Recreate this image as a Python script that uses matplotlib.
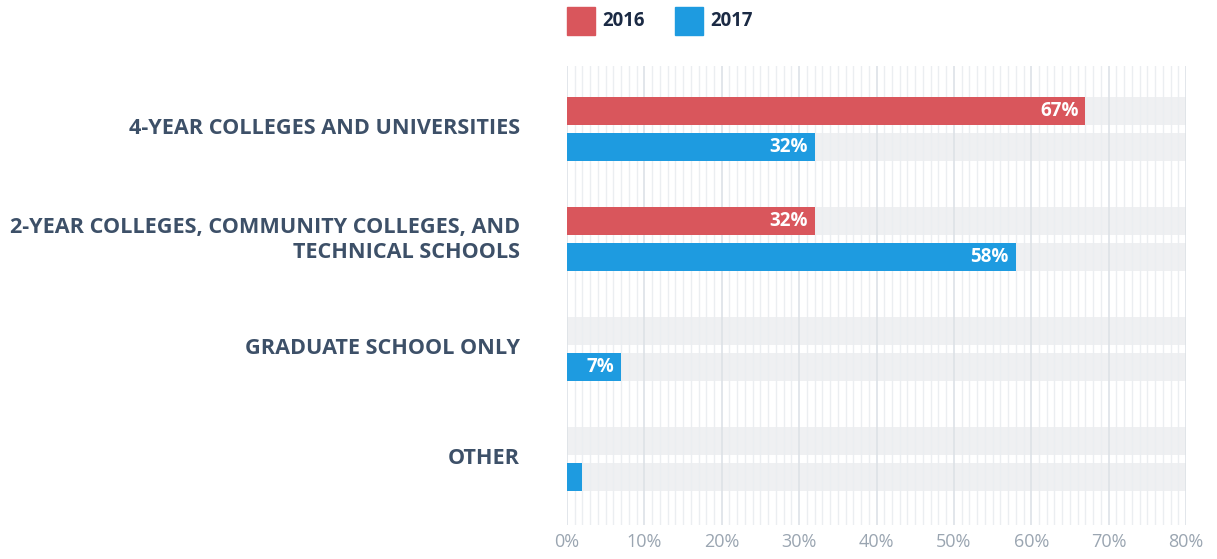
import matplotlib.pyplot as plt
import matplotlib.transforms as mtransforms
from matplotlib.ticker import MultipleLocator, FuncFormatter
from matplotlib.patches import Rectangle

plt.rcParams['font.family'] = ['Open Sans', 'DejaVu Sans']

categories = ['4-YEAR COLLEGES AND UNIVERSITIES',
              '2-YEAR COLLEGES, COMMUNITY COLLEGES, AND\nTECHNICAL SCHOOLS',
              'GRADUATE SCHOOL ONLY',
              'OTHER']
vals_2016 = [67, 32, 0, 0]
vals_2017 = [32, 58, 7, 2]
series_names = ['2016', '2017']
colors = ['#d9565c', '#1e9be0']
show_label_min = 5

fig = plt.figure(figsize=(12.17, 5.59), dpi=100)
ax = fig.add_axes([567 / 1217, 1 - 525 / 559, 619 / 1217, 459 / 559])

xmax = 80
h = 28 / 110
off = 18 / 110
y = list(range(len(categories)))

# background tracks
for yi in y:
    for o in (-off, off):
        ax.barh(yi + o, xmax, height=h, color='#eff0f2', zorder=1)

for vals, col, o in ((vals_2016, colors[0], -off), (vals_2017, colors[1], off)):
    ax.barh([yi + o for yi in y], vals, height=h, color=col, zorder=3)
    for yi, v in zip(y, vals):
        if v >= show_label_min:
            ax.text(v - 0.9, yi + o, f'{v}%', ha='right', va='center',
                    color='white', fontsize=13.5, fontweight='bold', zorder=4)

ax.set_xlim(0, xmax)
ax.set_ylim(3 + 66 / 110, -63 / 110)
ax.xaxis.set_major_locator(MultipleLocator(10))
ax.xaxis.set_minor_locator(MultipleLocator(1))
ax.xaxis.set_major_formatter(FuncFormatter(lambda v, p: f'{v:.0f}%'))
ax.grid(axis='x', which='major', color='#dde2e7', lw=1.2, zorder=0)
ax.grid(axis='x', which='minor', color='#ebeef1', lw=1.0, zorder=0)
ax.tick_params(axis='x', which='both', length=0, labelsize=13, colors='#9aa5b1', pad=6)
ax.tick_params(axis='y', length=0, pad=34)
ax.set_yticks(y)
ax.set_yticklabels(categories, fontsize=15.6, fontweight='bold', color='#3d5068',
                   linespacing=1.2)
shift = mtransforms.ScaledTranslation(0, 3 / 100, fig.dpi_scale_trans)
for lab in ax.get_yticklabels():
    lab.set_transform(lab.get_transform() + shift)
for s in ax.spines.values():
    s.set_visible(False)

# legend
lx = [567, 675]
for x0, name, col in zip(lx, series_names, colors):
    fig.patches.append(Rectangle((x0 / 1217, 1 - 35 / 559), 28 / 1217, 28 / 559,
                                 transform=fig.transFigure, color=col))
    fig.text((x0 + 35) / 1217, 1 - 21 / 559, name, ha='left', va='center',
             fontsize=13.4, fontweight='bold', color='#1b2a44')

fig.savefig('out.png', dpi=100)
